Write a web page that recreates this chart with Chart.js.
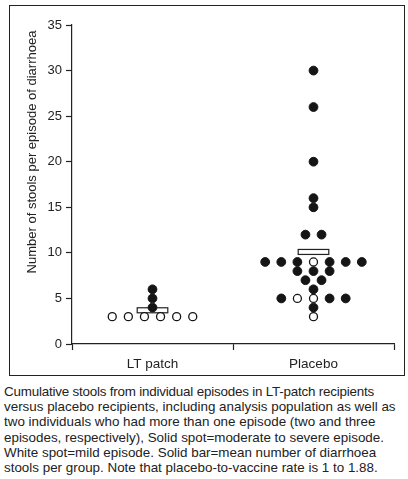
<!DOCTYPE html>
<html>
<head>
<meta charset="utf-8">
<script src="https://cdn.jsdelivr.net/npm/chart.js@4"></script>
<style>
  body { margin: 0; background: #fff; width: 408px; height: 479px; position: relative; overflow: hidden; }
  #frame { position: absolute; left: 9px; top: 5px; width: 396px; height: 371px; border: 1px solid #222; box-sizing: border-box; }
  #wrap { position: absolute; left: 0; top: 0; width: 408px; height: 380px; }
  #caption { position: absolute; left: 4px; top: 384px; font: 13.4px "Liberation Sans", Arial, sans-serif; line-height: 15.2px; color: #222; white-space: nowrap; }
  #caption .tight { letter-spacing: -0.2px; }
</style>
</head>
<body>
<div id="frame"></div>
<div id="wrap"><canvas id="chart"></canvas></div>
<div id="caption"><span class="tight">Cumulative stools from individual episodes in LT-patch recipients</span><br>versus placebo recipients, including analysis population as well as<br>two individuals who had more than one episode (two and three<br>episodes, respectively), Solid spot=moderate to severe episode.<br>White spot=mild episode. Solid bar=mean number of diarrhoea<br>stools per group. Note that placebo-to-vaccine rate is 1 to 1.88.</div>
<script>
var groups = ['LT patch', 'Placebo'];
var yTicks = [0, 5, 10, 15, 20, 25, 30, 35];

// dot values and their horizontal slot inside the group (slot = one dot width)
var ltSevereValues = [4, 5, 6];
var ltSevereSlots = [0, 0, 0];
var ltMildValues = [3, 3, 3, 3, 3, 3];
var ltMildSlots = [-2.5, -1.5, -0.5, 0.5, 1.5, 2.5];

var placeboSevereValues = [30, 26, 20, 16, 15, 12, 12, 9, 9, 9, 9, 9, 9, 8, 8, 8, 7, 7, 6, 5, 5, 5, 4];
var placeboSevereSlots = [0, 0, 0, 0, 0, -0.5, 0.5, -3, -2, -1, 1, 2, 3, -1, 0, 1, -0.5, 0.5, 0, -2, 1, 2, 0];
var placeboMildValues = [9, 5, 5, 3];
var placeboMildSlots = [0, -1, 0, 0];

var meanValues = [3.7, 10.1];

var SLOT = 0.1;
var BAR_HALF = 0.095;

function toPoints(groupIdx, values, slots) {
    return values.map(function (v, i) {
        return { x: groupIdx + 0.5 + slots[i] * SLOT, y: v };
    });
}

var severe = toPoints(0, ltSevereValues, ltSevereSlots).concat(toPoints(1, placeboSevereValues, placeboSevereSlots));
var mild = toPoints(0, ltMildValues, ltMildSlots).concat(toPoints(1, placeboMildValues, placeboMildSlots));

var FONT = '"Liberation Sans", Arial, sans-serif';

// hollow mean bars, drawn under the dots
var meanBars = {
    id: 'meanBars',
    beforeDatasetsDraw: function (chart) {
        var ctx = chart.ctx, xs = chart.scales.x, ys = chart.scales.y;
        ctx.save();
        meanValues.forEach(function (m, i) {
            var x0 = xs.getPixelForValue(i + 0.5 - BAR_HALF);
            var x1 = xs.getPixelForValue(i + 0.5 + BAR_HALF);
            var yc = ys.getPixelForValue(m);
            ctx.fillStyle = '#fff';
            ctx.strokeStyle = '#222';
            ctx.lineWidth = 1.2;
            ctx.fillRect(x0, yc - 2.5, x1 - x0, 5);
            ctx.strokeRect(x0, yc - 2.5, x1 - x0, 5);
        });
        ctx.restore();
    }
};

// rotated y label, sits higher than the axis centre in the original
var yLabel = {
    id: 'yLabel',
    afterDraw: function (chart) {
        var ctx = chart.ctx;
        ctx.save();
        ctx.translate(32, 152);
        ctx.rotate(-Math.PI / 2);
        ctx.font = '13px ' + FONT;
        ctx.fillStyle = '#222';
        ctx.textAlign = 'center';
        ctx.textBaseline = 'middle';
        ctx.fillText('Number of stools per episode of diarrhoea', 0, 0);
        ctx.restore();
    }
};

new Chart(document.getElementById('chart'), {
    type: 'scatter',
    data: {
        datasets: [
            { label: 'moderate to severe', data: severe, backgroundColor: '#151515', borderColor: '#151515', borderWidth: 1, pointRadius: 4.4 },
            { label: 'mild', data: mild, backgroundColor: '#fff', borderColor: '#151515', borderWidth: 1.3, pointRadius: 4 }
        ]
    },
    options: {
        responsive: true,
        maintainAspectRatio: false,
        animation: false,
        layout: { padding: { left: 0, top: 25, right: 14, bottom: 0 } },
        plugins: { legend: { display: false }, tooltip: { enabled: false } },
        scales: {
            x: {
                type: 'linear',
                min: 0,
                max: 2,
                afterBuildTicks: function (scale) {
                    scale.ticks = [0, 0.5, 1, 1.5, 2].map(function (v) { return { value: v }; });
                },
                afterFit: function (scale) { scale.height = 36; },
                ticks: {
                    autoSkip: false,
                    maxRotation: 0,
                    padding: 6,
                    color: '#222',
                    font: { family: FONT, size: 13.5 },
                    callback: function (v) {
                        if (v === 0.5) return groups[0];
                        if (v === 1.5) return groups[1];
                        return '';
                    }
                },
                grid: {
                    drawOnChartArea: false,
                    tickLength: 6,
                    tickWidth: 1.2,
                    tickColor: function (c) { return (c.tick && c.tick.value % 1 === 0) ? '#222' : 'rgba(0,0,0,0)'; }
                },
                border: { display: true, color: '#222', width: 1.2 }
            },
            y: {
                min: 0,
                max: 35,
                afterBuildTicks: function (scale) {
                    scale.ticks = yTicks.map(function (v) { return { value: v }; });
                },
                afterFit: function (scale) { scale.width = 72; },
                ticks: { padding: 4, color: '#222', font: { family: FONT, size: 13 } },
                grid: { drawOnChartArea: false, tickLength: 6, tickWidth: 1.2, tickColor: '#222' },
                border: { display: true, color: '#222', width: 1.2 }
            }
        }
    },
    plugins: [meanBars, yLabel]
});
</script>
</body>
</html>
